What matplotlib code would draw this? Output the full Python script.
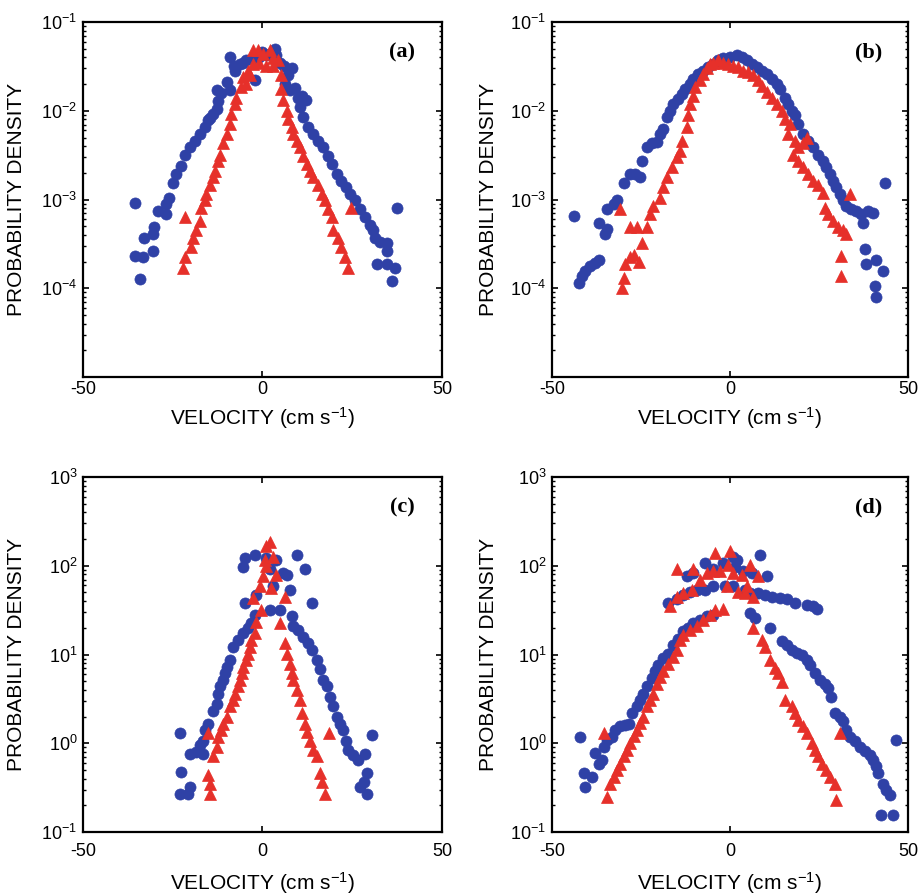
import matplotlib
matplotlib.use("Agg")
from matplotlib import pyplot as plt
from matplotlib.ticker import LogLocator, NullFormatter, FixedLocator

plt.rcParams['font.family'] = ['Liberation Sans', 'DejaVu Sans']
plt.rcParams['mathtext.fontset'] = 'custom'
plt.rcParams['mathtext.rm'] = 'Liberation Sans'
plt.rcParams['mathtext.it'] = 'Liberation Sans:italic'
plt.rcParams['mathtext.bf'] = 'Liberation Sans:bold'
plt.rcParams['axes.unicode_minus'] = False

# ---- panel (a) ----
a_blue_v = [-35.6, -34.0, -35.6, -33.3, -33.1, -30.5, -30.5, -30.3, -29.1, -26.8, -26.8, -25.9,
            -24.9, -24.0, -22.6, -21.7, -20.3, -18.9, -17.5, -16.1, -15.2, -14.5, -13.8, -12.8,
            -12.4, -12.8, -11.5, -10.0, -9.1, -9.1, -8.0, -7.7, -6.3, -5.5, -4.5, -3.0, -2.1,
            -1.0, 0.0, 1.0, 2.0, 3.4, 3.9, 5.0, 6.0, 7.0, 8.1, 6.2, 7.6, 9.0, 10.0, 10.9, 12.0,
            10.4, 11.3, 12.7, 14.1, 15.5, 16.9, 18.3, 19.3, 20.7, 22.0, 23.4, 24.4, 25.8, 27.2,
            28.6, 30.0, 30.9, 31.3, 32.7, 34.6, 34.6, 31.8, 34.6, 36.9, 36.0, 37.4]
a_blue_p = [9.1e-4, 1.26e-4, 2.34e-4, 2.24e-4, 3.7e-4, 4.1e-4, 2.6e-4, 4.9e-4, 7.4e-4, 6.9e-4,
            8.9e-4, 1.05e-3, 1.55e-3, 1.95e-3, 2.4e-3, 3.2e-3, 3.9e-3, 4.6e-3, 5.5e-3, 6.5e-3,
            7.8e-3, 8.3e-3, 9.1e-3, 1.05e-2, 1.29e-2, 1.7e-2, 1.6e-2, 2.1e-2, 1.7e-2, 4.0e-2,
            3.2e-2, 2.8e-2, 3.4e-2, 3.5e-2, 3.7e-2, 3.8e-2, 2.2e-2, 4.0e-2, 4.6e-2, 4.2e-2,
            4.4e-2, 5.0e-2, 4.2e-2, 3.5e-2, 3.2e-2, 2.5e-2, 3.0e-2, 2.0e-2, 1.7e-2, 1.8e-2,
            1.4e-2, 1.48e-2, 1.32e-2, 1.1e-2, 8.5e-3, 6.5e-3, 5.5e-3, 4.6e-3, 3.9e-3, 3.1e-3,
            2.5e-3, 1.95e-3, 1.6e-3, 1.38e-3, 1.15e-3, 9.8e-4, 7.8e-4, 6.3e-4, 5.2e-4, 4.5e-4,
            3.7e-4, 3.3e-4, 3.2e-4, 2.6e-4, 1.86e-4, 1.86e-4, 1.7e-4, 1.2e-4, 8.1e-4]
a_red_v = [-21.7, -22.1, -21.7, -19.8, -19.3, -18.4, -17.5, -17.0, -16.1, -15.6, -14.7, -13.8,
           -13.3, -12.4, -11.9, -11.0, -10.0, -9.1, -8.7, -7.7, -7.3, -5.9, -4.5, -5.4, -4.0,
           -3.5, -2.6, -2.6, -1.2, -1.0, 0.2, 1.0, 2.0, 3.0, 3.0, 4.4, 5.3, 5.3, 5.8, 6.7, 7.2,
           8.1, 8.6, 9.5, 10.4, 11.3, 12.3, 13.2, 14.1, 15.5, 16.5, 17.4, 18.3, 19.3, 19.7, 21.1,
           22.0, 22.9, 23.9, 24.8]
a_red_p = [6.3e-4, 1.7e-4, 2.24e-4, 2.9e-4, 3.7e-4, 4.5e-4, 5.8e-4, 8.1e-4, 9.8e-4, 1.15e-3,
           1.45e-3, 1.78e-3, 2.1e-3, 2.75e-3, 3.2e-3, 4.3e-3, 5.5e-3, 7.1e-3, 9.1e-3, 1.2e-2,
           1.4e-2, 1.86e-2, 2.0e-2, 2.4e-2, 2.8e-2, 2.5e-2, 3.4e-2, 4.8e-2, 4.8e-2, 3.5e-2,
           4.4e-2, 3.2e-2, 4.8e-2, 3.9e-2, 3.2e-2, 3.7e-2, 2.5e-2, 1.78e-2, 1.32e-2, 1.0e-2,
           8.1e-3, 6.5e-3, 5.5e-3, 4.6e-3, 3.9e-3, 3.1e-3, 2.5e-3, 2.1e-3, 1.78e-3, 1.45e-3,
           1.15e-3, 9.8e-4, 7.8e-4, 6.3e-4, 4.5e-4, 3.7e-4, 2.9e-4, 2.24e-4, 1.7e-4, 8.1e-4]

# ---- panel (b) ----
b_blue_v = [-43.9, -42.5, -41.6, -40.7, -39.3, -37.9, -36.9, -36.9, -35.0, -34.6, -34.6, -32.7,
            -31.8, -29.9, -28.0, -26.6, -25.2, -24.8, -23.4, -22.0, -20.6, -19.6, -18.7, -17.8,
            -16.8, -15.9, -14.5, -13.6, -12.6, -11.2, -10.3, -8.9, -7.5, -6.1, -4.7, -3.3, -1.9,
            0.0, 1.9, 3.3, 4.7, 6.1, 7.5, 8.9, 10.3, 11.7, 13.1, 14.0, 15.4, 16.4, 17.3, 18.2,
            19.2, 20.6, 22.0, 23.4, 24.8, 26.2, 27.1, 28.0, 29.0, 29.9, 30.8, 31.8, 32.7, 34.1,
            35.5, 36.9, 37.4, 38.8, 40.2, 37.8, 38.3, 41.1, 43.0, 40.7, 41.1, 43.5]
b_blue_p = [6.6e-4, 1.15e-4, 1.38e-4, 1.58e-4, 1.78e-4, 1.95e-4, 2.1e-4, 5.5e-4, 4.1e-4, 4.7e-4,
            7.8e-4, 8.9e-4, 9.8e-4, 1.55e-3, 1.95e-3, 1.95e-3, 1.78e-3, 2.75e-3, 3.9e-3, 4.3e-3,
            4.4e-3, 5.5e-3, 6.3e-3, 8.5e-3, 1.0e-2, 1.2e-2, 1.35e-2, 1.55e-2, 1.78e-2, 2.0e-2,
            2.3e-2, 2.6e-2, 2.8e-2, 3.1e-2, 3.4e-2, 3.7e-2, 3.9e-2, 4.0e-2, 4.2e-2, 4.0e-2,
            3.7e-2, 3.4e-2, 3.1e-2, 2.8e-2, 2.6e-2, 2.3e-2, 2.0e-2, 1.78e-2, 1.4e-2, 1.2e-2,
            1.0e-2, 8.9e-3, 7.1e-3, 5.5e-3, 4.6e-3, 3.9e-3, 3.2e-3, 2.75e-3, 2.3e-3, 1.95e-3,
            1.6e-3, 1.38e-3, 1.15e-3, 9.8e-4, 8.5e-4, 7.8e-4, 7.4e-4, 6.9e-4, 5.5e-4, 7.4e-4,
            7.1e-4, 2.75e-4, 1.86e-4, 2.1e-4, 1.58e-4, 1.07e-4, 7.9e-5, 1.55e-3]
b_red_v = [-30.8, -30.4, -29.9, -29.4, -28.0, -27.1, -25.7, -24.8, -28.0, -26.2, -23.4, -22.4,
           -21.5, -19.6, -18.7, -17.8, -16.4, -15.0, -14.0, -13.6, -12.1, -11.7, -11.2, -10.3,
           -9.8, -8.4, -7.5, -6.5, -5.6, -4.7, -3.3, -1.9, -0.5, 0.9, 2.3, 3.7, 5.1, 6.5, 7.9,
           8.9, 10.3, 11.7, 13.1, 14.5, 15.4, 16.8, 16.4, 18.2, 19.2, 20.6, 21.5, 17.8, 19.2,
           20.6, 22.0, 23.4, 24.8, 26.2, 26.6, 27.6, 29.0, 30.4, 31.8, 32.7, 33.6, 31.3, 31.3]
b_red_p = [7.8e-4, 1.02e-4, 1.32e-4, 1.86e-4, 2.24e-4, 2.4e-4, 2.0e-4, 3.2e-4, 4.9e-4, 4.9e-4,
           4.9e-4, 6.9e-4, 8.5e-4, 1.05e-3, 1.38e-3, 1.78e-3, 2.3e-3, 3.0e-3, 3.5e-3, 4.6e-3,
           6.5e-3, 8.9e-3, 1.2e-2, 1.48e-2, 1.86e-2, 2.2e-2, 2.6e-2, 3.0e-2, 3.4e-2, 3.5e-2,
           3.7e-2, 3.5e-2, 3.4e-2, 3.2e-2, 3.1e-2, 2.8e-2, 2.75e-2, 2.5e-2, 2.2e-2, 1.9e-2,
           1.62e-2, 1.4e-2, 1.2e-2, 1.0e-2, 8.1e-3, 7.1e-3, 5.5e-3, 4.6e-3, 3.9e-3, 4.3e-3,
           5.0e-3, 3.2e-3, 2.75e-3, 2.3e-3, 1.95e-3, 1.6e-3, 1.45e-3, 1.2e-3, 8.1e-4, 6.9e-4,
           5.8e-4, 4.9e-4, 4.5e-4, 4.1e-4, 1.15e-3, 2.3e-4, 1.38e-4]

# ---- panel (c) ----
c_blue_v = [-23.1, -23.1, -22.6, -20.7, -20.3, -20.3, -18.4, -17.5, -16.6, -16.6, -16.1, -15.2,
            -13.8, -12.8, -12.4, -11.9, -11.0, -10.5, -10.0, -9.1, -8.2, -6.8, -5.4, -4.0, -3.1,
            -2.1, -4.9, -5.4, -2.1, -4.9, -1.7, 1.1, 2.0, 2.0, 3.0, 3.9, 4.8, 5.8, 6.7, 7.6, 8.1,
            9.5, 11.8, 13.7, 8.6, 10.0, 11.3, 12.7, 13.7, 15.1, 16.0, 16.9, 17.9, 18.8, 19.7,
            20.7, 21.6, 22.5, 23.4, 23.9, 25.3, 26.7, 27.2, 29.0, 29.0, 30.4, 28.6, 28.2]
c_blue_p = [1.29, 0.27, 0.48, 0.27, 0.32, 0.76, 0.79, 0.95, 1.07, 0.76, 1.41, 1.66, 2.3, 2.8,
            3.6, 4.4, 5.1, 6.2, 7.2, 8.7, 12.3, 14.5, 17.4, 20, 22.4, 28, 38, 98, 132, 123, 47,
            123, 93, 32, 59, 117, 32, 83, 79, 54, 27, 132, 93, 38, 21, 19, 15.8, 13.5, 11.2, 8.7,
            6.8, 5.1, 4.4, 3.3, 2.6, 2.0, 1.66, 1.41, 1.07, 0.83, 0.74, 0.65, 0.32, 0.46, 0.27,
            1.23, 0.76, 0.37]
c_red_v = [-15.2, -14.7, -14.7, -15.2, -13.8, -12.8, -12.4, -11.5, -11.0, -10.0, -9.1, -8.2,
           -7.7, -6.8, -6.3, -5.8, -5.4, -4.5, -4.0, -3.5, -3.1, -2.1, -1.7, -2.6, -0.5, -0.7,
           0.2, 0.6, 1.0, 1.1, 2.0, 2.5, 3.0, 3.9, 6.2, 4.8, 6.2, 6.7, 7.6, 8.1, 8.6, 9.5, 10.4,
           10.9, 11.8, 12.3, 13.2, 14.1, 15.1, 16.0, 16.5, 17.4, 18.4]
c_red_p = [1.29, 0.27, 0.35, 0.44, 0.71, 0.91, 1.17, 1.41, 1.66, 2.0, 2.6, 3.1, 3.6, 4.4, 5.1,
           6.2, 7.2, 8.7, 10.2, 12.3, 14.5, 17.4, 23, 43, 32, 59, 76, 117, 100, 166, 186, 56,
           126, 79, 45, 22.4, 13.5, 10.2, 7.9, 6.2, 5.1, 4.0, 3.1, 2.2, 1.66, 1.35, 1.07, 0.83,
           0.71, 0.46, 0.37, 0.27, 1.29]

# ---- panel (d) ----
d_blue_v = [-42.1, -41.1, -40.7, -38.8, -37.9, -36.9, -36.0, -35.5, -34.6, -33.2, -32.2, -30.8,
            -29.4, -28.5, -27.6, -26.2, -25.2, -24.3, -23.4, -22.0, -21.0, -20.1, -18.7, -17.3,
            -15.9, -14.5, -13.1, -11.7, -10.3, -8.4, -6.5, -4.7,
            -17.3, -15.0, -13.1, -11.2, -9.3, -7.0, -4.7, -1.4, 0.9, 4.2, 5.6, 7.9, 9.8, 11.7,
            14.0, 15.9, 18.2, 21.5, 23.4, 24.3,
            -12.1, -10.3, -7.0, -4.7, -1.9, 0.9, 1.4, 3.7, 6.1, 8.4, 10.3, 1.9,
            5.6, 7.0, 11.2, 14.5, 15.9, 17.3, 18.7, 20.1, 21.5, 22.4, 23.8, 25.2, 26.6, 27.6,
            28.5, 29.4, 30.8, 31.8, 32.7, 33.6, 35.0, 36.4, 37.9, 39.3, 40.2, 41.1, 41.6, 43.0,
            43.9, 44.9, 42.5, 45.8, 46.7]
d_blue_p = [1.17, 0.46, 0.32, 0.42, 0.78, 0.58, 0.65, 0.91, 1.10, 1.17, 1.41, 1.55, 1.62, 1.66,
            2.2, 2.6, 3.1, 3.6, 4.4, 5.4, 6.5, 7.6, 9.1, 10.2, 12.9, 15.1, 18.2, 20, 22.4, 24.5,
            27, 28,
            38, 42, 47, 51, 54, 54, 59, 59, 59, 54, 49, 49, 47, 45, 43, 42, 38, 36, 35, 33,
            76, 83, 107, 93, 107, 126, 98, 87, 83, 132, 76, 115,
            29, 26, 20, 14.1, 12.9, 11.2, 10.5, 9.8, 8.7, 7.6, 6.2, 5.1, 4.6, 4.2, 3.3, 2.2, 2.0,
            1.78, 1.41, 1.17, 1.05, 0.91, 0.81, 0.74, 0.65, 0.55, 0.46, 0.35, 0.30, 0.26, 0.155,
            0.155, 1.10]
d_red_v = [-35.5, -34.6, -33.6, -32.7, -31.8, -30.8, -29.9, -29.0, -28.0, -27.1, -26.2, -25.2,
           -24.3, -23.4, -22.4, -21.5, -20.6, -19.6, -18.7, -17.3, -15.9, -15.0, -14.0, -13.1,
           -11.2, -9.3, -7.5, -5.6, -4.2, -1.9,
           -16.8, -15.0, -13.1, -10.7, -8.4, -6.5, -4.7, -2.8, -0.9, 0.9, 3.3, 4.7, 6.5, 7.9,
           5.6, -0.5, 0.0, -4.2, -15.0, -10.3, 2.3, 4.2,
           6.5, 8.9, 9.8, 11.2, 12.6, 13.6, 14.5, 15.4, 17.3, 18.2, 19.2, 20.6, 21.5, 22.9,
           23.8, 24.8, 25.7, 27.1, 28.0, 29.4, 29.9, 30.8]
d_red_p = [1.29, 0.25, 0.35, 0.42, 0.50, 0.59, 0.71, 0.83, 1.0, 1.20, 1.41, 1.70, 2.0, 2.6, 3.1,
           3.6, 4.7, 5.6, 6.6, 7.9, 9.5, 11.2, 14.5, 16.6, 19, 21, 24.5, 28, 32, 33,
           35, 44, 49, 54, 69, 83, 87, 87, 59, 83, 79, 59, 45, 76, 102, 102, 145, 138, 93, 93,
           51, 49,
           20, 14.5, 12.3, 8.7, 7.1, 6.2, 4.9, 3.1, 2.6, 2.2, 1.82, 1.55, 1.29, 1.0, 0.83, 0.71,
           0.59, 0.50, 0.42, 0.35, 0.23, 1.29]

panels = [
    ("(a)", a_blue_v, a_blue_p, a_red_v, a_red_p, (1e-5, 1e-1), [1e-4, 1e-3, 1e-2, 1e-1]),
    ("(b)", b_blue_v, b_blue_p, b_red_v, b_red_p, (1e-5, 1e-1), [1e-4, 1e-3, 1e-2, 1e-1]),
    ("(c)", c_blue_v, c_blue_p, c_red_v, c_red_p, (1e-1, 1e3), [1e-1, 1, 1e1, 1e2, 1e3]),
    ("(d)", d_blue_v, d_blue_p, d_red_v, d_red_p, (1e-1, 1e3), [1e-1, 1, 1e1, 1e2, 1e3]),
]

# axes rectangles in figure fractions (left, bottom, width, height)
rects = [
    (0.0898, 0.5792, 0.3885, 0.3962),
    (0.5974, 0.5792, 0.3853, 0.3962),
    (0.0898, 0.0714, 0.3885, 0.3962),
    (0.5974, 0.0714, 0.3853, 0.3962),
]
ylabel_x = [-0.160, -0.152, -0.160, -0.152]
xlabel_y = [-0.078, -0.078, -0.108, -0.108]
xtick_pad = [2.5, 2.5, 8, 8]

blue = '#2f41a6'
red = '#e6302a'

fig = plt.figure(figsize=(9.24, 8.96), dpi=100)

for i, (tag, bv, bp, rv, rp, ylim, yt) in enumerate(panels):
    ax = fig.add_axes(rects[i])
    ax.plot(bv, bp, 'o', color=blue, ms=8, mec=blue, mew=0.5, ls='none', zorder=2)
    ax.plot(rv, rp, '^', color=red, ms=9, mec=red, mew=0.5, ls='none', zorder=3)
    ax.set_yscale('log')
    ax.set_xlim(-50, 50)
    ax.set_ylim(*ylim)
    ax.set_xticks([-50, 0, 50])
    ax.yaxis.set_major_locator(FixedLocator(yt))
    ax.yaxis.set_minor_locator(LogLocator(base=10, subs=range(2, 10), numticks=20))
    ax.yaxis.set_minor_formatter(NullFormatter())
    ax.tick_params(which='both', direction='in', top=True, right=True, labelsize=13)
    ax.tick_params(which='major', length=4, width=1.2)
    ax.tick_params(which='minor', length=2.5, width=1.0)
    ax.tick_params(axis='x', pad=xtick_pad[i])
    ax.tick_params(axis='y', pad=4)
    for s in ax.spines.values():
        s.set_linewidth(1.6)
    ax.set_xlabel(r"VELOCITY (cm s$^{-1}$)", fontsize=15)
    ax.set_ylabel("PROBABILITY DENSITY", fontsize=15)
    ax.xaxis.set_label_coords(0.5, xlabel_y[i])
    ax.yaxis.set_label_coords(ylabel_x[i], 0.5)
    ax.text(0.89, 0.915, tag, transform=ax.transAxes, ha='center', va='center',
            fontsize=16, fontweight='bold', family='Liberation Serif')

fig.savefig('out.png', dpi=100)
